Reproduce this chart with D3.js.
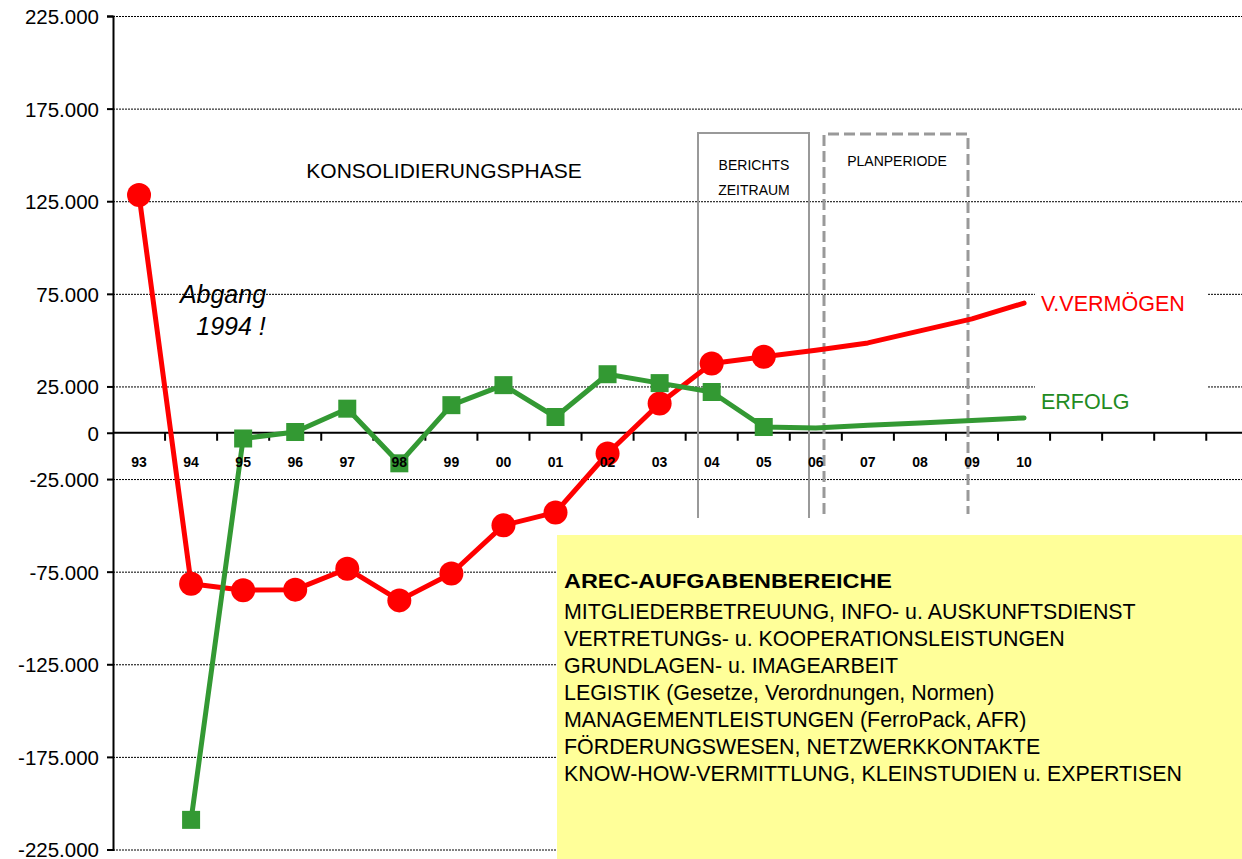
<!DOCTYPE html>
<html>
<head>
<meta charset="utf-8">
<script src="https://cdn.jsdelivr.net/npm/d3@7"></script>
<style>
  body { margin: 0; background: #fff; }
  svg { display: block; font-family: "Liberation Sans", Arial, sans-serif; }
  .grid line { stroke: #000; stroke-width: 1; stroke-dasharray: 2,1; }
  .grid path { display: none; }
</style>
</head>
<body>
<svg width="1242" height="859"></svg>
<script>
// data (values in thousands)
var years = ["93","94","95","96","97","98","99","00","01","02","03","04","05","06","07","08","09","10"];
var vermoegen = [128.3, -81.5, -85, -84.7, -73.4, -90.5, -76, -50, -43, -11.2, 15.8, 37.4, 41, 44.5, 48.5, 55, 61.5, 70];
var erfolg = [null, -209, -3.1, 0.4, 13, -16.5, 14.9, 25.7, 8.5, 31.6, 26.8, 22, 3.1, 2.6, 4, 5.3, 6.6, 8];
var lastMarker = 12; // markers up to "05"
var yTicks = [225, 175, 125, 75, 25, 0, -25, -75, -125, -175, -225];
var nBands = 22;
var aufgaben = [
  "MITGLIEDERBETREUUNG, INFO- u. AUSKUNFTSDIENST",
  "VERTRETUNGs- u. KOOPERATIONSLEISTUNGEN",
  "GRUNDLAGEN- u. IMAGEARBEIT",
  "LEGISTIK (Gesetze, Verordnungen, Normen)",
  "MANAGEMENTLEISTUNGEN (FerroPack, AFR)",
  "FÖRDERUNGSWESEN, NETZWERKKONTAKTE",
  "KNOW-HOW-VERMITTLUNG, KLEINSTUDIEN u. EXPERTISEN"
];

var svg = d3.select("svg");
var plotLeft = 113, plotRight = 1242, plotTop = 16, plotBottom = 849.5;

var x = d3.scaleBand().domain(d3.range(nBands)).range([plotLeft, plotLeft + nBands * 52.06]).padding(0);
var y = d3.scaleLinear().domain([-225, 225]).range([plotBottom, plotTop]);

var de = d3.formatLocale({decimal: ",", thousands: ".", grouping: [3], currency: ["", " €"], minus: "-"});
var fmt = de.format(",.0f");

var cx = function(i) { return x(i) + x.bandwidth() / 2; };

// grid lines
svg.append("g").attr("class", "grid")
  .attr("transform", "translate(" + plotLeft + ",0)")
  .call(d3.axisLeft(y).tickValues(yTicks.filter(function(v) { return v !== 0; })).tickSize(-(plotRight - plotLeft)).tickFormat(""));

// label backgrounds (text boxes cover grid)
svg.append("rect").attr("x", 1035).attr("y", 283).attr("width", 172).attr("height", 32).attr("fill", "#fff");
svg.append("rect").attr("x", 1035).attr("y", 378).attr("width", 172).attr("height", 36).attr("fill", "#fff");

// y axis
var yAxis = svg.append("g")
  .attr("transform", "translate(" + plotLeft + ",0)")
  .call(d3.axisLeft(y).tickValues(yTicks).tickSize(6).tickPadding(8).tickFormat(function(d) { return fmt(d * 1000); }));
yAxis.select(".domain").attr("stroke", "#000").attr("stroke-width", 2);
yAxis.selectAll(".tick line").attr("stroke", "#000").attr("stroke-width", 2);
yAxis.selectAll("text").attr("fill", "#000").style("font-size", "20.5px").attr("dy", "0.36em");

// x axis line + ticks at band boundaries
svg.append("line").attr("x1", plotLeft).attr("x2", plotRight).attr("y1", y(0)).attr("y2", y(0))
  .attr("stroke", "#000").attr("stroke-width", 2);
svg.append("g").selectAll("line").data(d3.range(nBands)).enter().append("line")
  .attr("x1", function(i) { return x(i) + x.bandwidth(); })
  .attr("x2", function(i) { return x(i) + x.bandwidth(); })
  .attr("y1", y(0)).attr("y2", y(0) + 8)
  .attr("stroke", "#000").attr("stroke-width", 2);

// period boxes
svg.append("path")
  .attr("d", "M698,518V133H809V518")
  .attr("fill", "none").attr("stroke", "#999").attr("stroke-width", 2);
svg.append("path")
  .attr("d", "M824,514V134H968V514")
  .attr("fill", "none").attr("stroke", "#999").attr("stroke-width", 3).attr("stroke-dasharray", "11,5");

svg.append("text").attr("x", 754).attr("y", 170).attr("text-anchor", "middle").style("font-size", "14px").text("BERICHTS");
svg.append("text").attr("x", 754).attr("y", 195).attr("text-anchor", "middle").style("font-size", "14px").text("ZEITRAUM");
svg.append("text").attr("x", 897).attr("y", 166).attr("text-anchor", "middle").style("font-size", "14px").text("PLANPERIODE");
svg.append("text").attr("x", 444).attr("y", 178).attr("text-anchor", "middle").style("font-size", "21px").text("KONSOLIDIERUNGSPHASE");

// annotation
svg.append("text").attr("x", 223).attr("y", 303).attr("text-anchor", "middle")
  .style("font-size", "25px").style("font-style", "italic").text("Abgang");
svg.append("text").attr("x", 231).attr("y", 335).attr("text-anchor", "middle")
  .style("font-size", "25px").style("font-style", "italic").text("1994 !");

// series
var line = d3.line()
  .defined(function(d) { return d != null; })
  .x(function(d, i) { return cx(i); })
  .y(function(d) { return y(d); });

svg.append("path").datum(vermoegen).attr("d", line)
  .attr("fill", "none").attr("stroke", "#ff0000").attr("stroke-width", 5).attr("stroke-linejoin", "round").attr("stroke-linecap", "round");
svg.append("g").selectAll("circle")
  .data(vermoegen.map(function(v, i) { return {v: v, i: i}; }).filter(function(d) { return d.i <= lastMarker; }))
  .enter().append("circle")
  .attr("cx", function(d) { return cx(d.i); })
  .attr("cy", function(d) { return y(d.v); })
  .attr("r", 12)
  .attr("fill", "#ff0000");

svg.append("path").datum(erfolg).attr("d", line)
  .attr("fill", "none").attr("stroke", "#339933").attr("stroke-width", 5).attr("stroke-linejoin", "round").attr("stroke-linecap", "round");
svg.append("g").selectAll("rect")
  .data(erfolg.map(function(v, i) { return {v: v, i: i}; }).filter(function(d) { return d.v != null && d.i <= lastMarker; }))
  .enter().append("rect")
  .attr("x", function(d) { return cx(d.i) - 9; })
  .attr("y", function(d) { return y(d.v) - 9; })
  .attr("width", 18).attr("height", 18)
  .attr("fill", "#339933");

// category labels on top of the series
svg.append("g").selectAll("text").data(years).enter().append("text")
  .attr("x", function(d, i) { return cx(i); })
  .attr("y", 467)
  .attr("text-anchor", "middle")
  .style("font-size", "14px").style("font-weight", "bold")
  .text(function(d) { return d; });

// series labels
svg.append("text").attr("x", 1041).attr("y", 311).style("font-size", "21.5px").attr("fill", "#ff0000").text("V.VERMÖGEN");
svg.append("text").attr("x", 1041).attr("y", 409).style("font-size", "21.5px").attr("fill", "#228b22").text("ERFOLG");

// task box
svg.append("rect").attr("x", 557).attr("y", 535).attr("width", 685).attr("height", 324).attr("fill", "#ffff99");
svg.append("text").attr("x", 564).attr("y", 588).style("font-size", "21px").style("font-weight", "bold")
  .attr("textLength", 328).attr("lengthAdjust", "spacingAndGlyphs")
  .text("AREC-AUFGABENBEREICHE");
svg.append("g").selectAll("text").data(aufgaben).enter().append("text")
  .attr("x", 564)
  .attr("y", function(d, i) { return 619 + i * 27; })
  .style("font-size", "21.4px")
  .text(function(d) { return d; });
</script>
</body>
</html>
